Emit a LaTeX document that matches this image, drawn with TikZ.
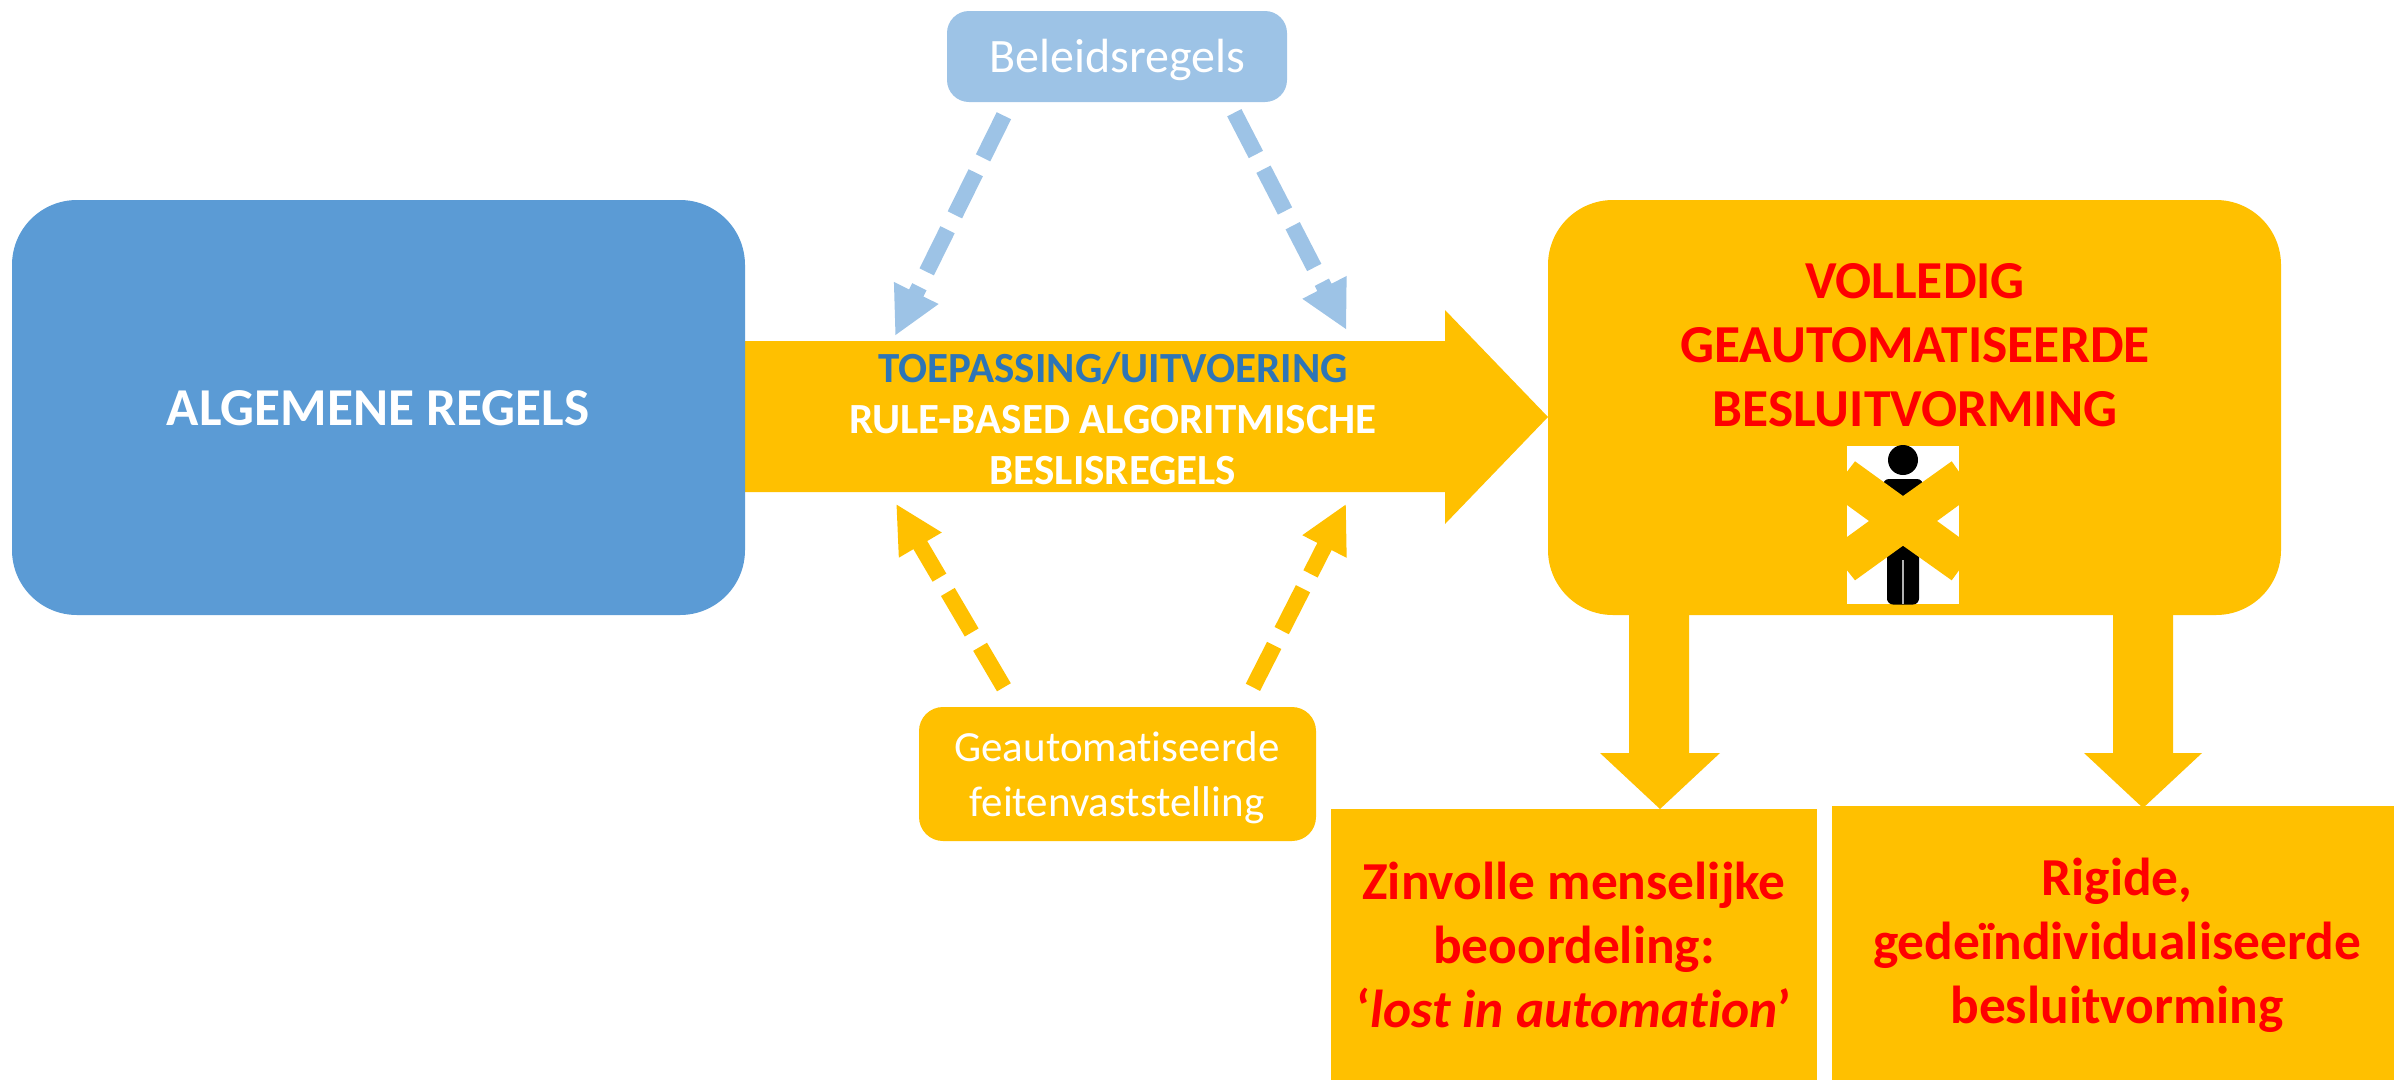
\documentclass[tikz,border=0pt]{standalone}
\usepackage{fontspec}
\setmainfont{Carlito}[Ligatures=NoCommon]
\usetikzlibrary{arrows.meta}
\definecolor{amber}{HTML}{FFC000}
\definecolor{midblue}{HTML}{5B9BD5}
\definecolor{lightblue}{HTML}{9DC3E6}
\definecolor{textblue}{HTML}{2E75B6}
\definecolor{alarm}{HTML}{FF0000}
\tikzset{
  x=1pt,y=-1pt,
  dashedarrow/.style={line width=16pt,dash pattern=on 47pt off 16.6pt,
     -{Triangle[length=48pt,width=46pt,sep=0pt]}},
  blockarrow/.style={fill=amber,draw=none},
  titletext/.style={font=\fontsize{53.4}{64}\selectfont\bfseries,align=center,text=alarm,inner sep=0pt},
  armtext/.style={font=\fontsize{43}{51}\selectfont\bfseries,align=center,text=white,inner sep=0pt},
  smalltext/.style={font=\fontsize{43}{55}\selectfont,align=center,text=white,inner sep=0pt},
}
\begin{document}
\begin{tikzpicture}
\useasboundingbox (0,0) rectangle (2394,1080);
% block arrows
\fill[blockarrow] (745,341) -- (1445,341) -- (1445,310) -- (1548,417) -- (1445,524) -- (1445,492) -- (745,492) -- cycle;
\fill[blockarrow] (1629,600) -- (1689,600) -- (1689,753) -- (1720,753) -- (1660,809) -- (1600,753) -- (1629,753) -- cycle;
\fill[blockarrow] (2113,600) -- (2173,600) -- (2173,753) -- (2202,753) -- (2143,808) -- (2084,753) -- (2113,753) -- cycle;
% boxes
\fill[midblue,rounded corners=65pt] (12,200) rectangle (745,615);
\node[font=\fontsize{53.3}{60}\selectfont\bfseries,text=white,inner sep=0pt] (regels) at (378,408) {ALGEMENE REGELS};
\fill[amber,rounded corners=65pt] (1548,200) rectangle (2281,615);
\node[titletext] (besluit) at (1915,345) {VOLLEDIG\\GEAUTOMATISEERDE\\BESLUITVORMING};
\fill[lightblue,rounded corners=22pt] (947,11) rectangle (1287,102);
\node[smalltext,font=\fontsize{48}{55}\selectfont] (beleid) at (1117,60) {Beleidsregels};
\fill[amber,rounded corners=24pt] (919,707) rectangle (1316,841);
\node[smalltext] (feiten) at (1117,778) {Geautomatiseerde\\feitenvaststelling};
\fill[amber] (1331,809) rectangle (1817,1080);
\node[titletext] (zinvol) at (1574,945) {Zinvolle menselijke\\beoordeling:\\‘\textit{lost in automation}’};
\fill[amber] (1832,806) rectangle (2394,1080);
\node[titletext] (rigide) at (2117,945) {Rigide,\\gedeïndividualiseerde\\besluitvorming};
% arrow text
\node[armtext] (toepassing) at (1113,419) {\textcolor{textblue}{TOEPASSING/UITVOERING}\\RULE-BASED ALGORITMISCHE\\BESLISREGELS};
% dashed arrows
\coordinate (b1s) at (1003.9,115.7); \coordinate (b1e) at (895,336);
\coordinate (b2s) at (1234.3,112.7); \coordinate (b2e) at (1346.5,330);
\coordinate (o1s) at (1003.9,687.3); \coordinate (o1e) at (896,503.7);
\coordinate (o2s) at (1252.9,687.3); \coordinate (o2e) at (1346.2,503.7);
\draw[dashedarrow,lightblue] (b1s) -- (b1e);
\draw[dashedarrow,lightblue] (b2s) -- (b2e);
\draw[dashedarrow,amber] (o1s) -- (o1e);
\draw[dashedarrow,amber] (o2s) -- (o2e);
% icon
\fill[white] (1847,446) rectangle (1959,604);
\fill[black] (1903,460) circle (15);
\fill[black,rounded corners=6pt] (1883,479) rectangle (1923,540);
\fill[black,rounded corners=6pt] (1887,520) rectangle (1919,604.5);
\fill[black] (1887,590) rectangle (1919,600);
\draw[line width=2pt,gray!60] (1903,560) -- (1903,604);
\fill[amber] (1855,461.3) -- (1903,496) -- (1951.7,461.3) -- (1959,471.7) -- (1959,505) -- (1937,521) -- (1959,537) -- (1959,570.3) -- (1951.7,580.3) -- (1903,545.7) -- (1855,580.3) -- (1847,570.3) -- (1847,537) -- (1869,521) -- (1847,505) -- (1847,471.7) -- cycle;
\end{tikzpicture}
\end{document}
